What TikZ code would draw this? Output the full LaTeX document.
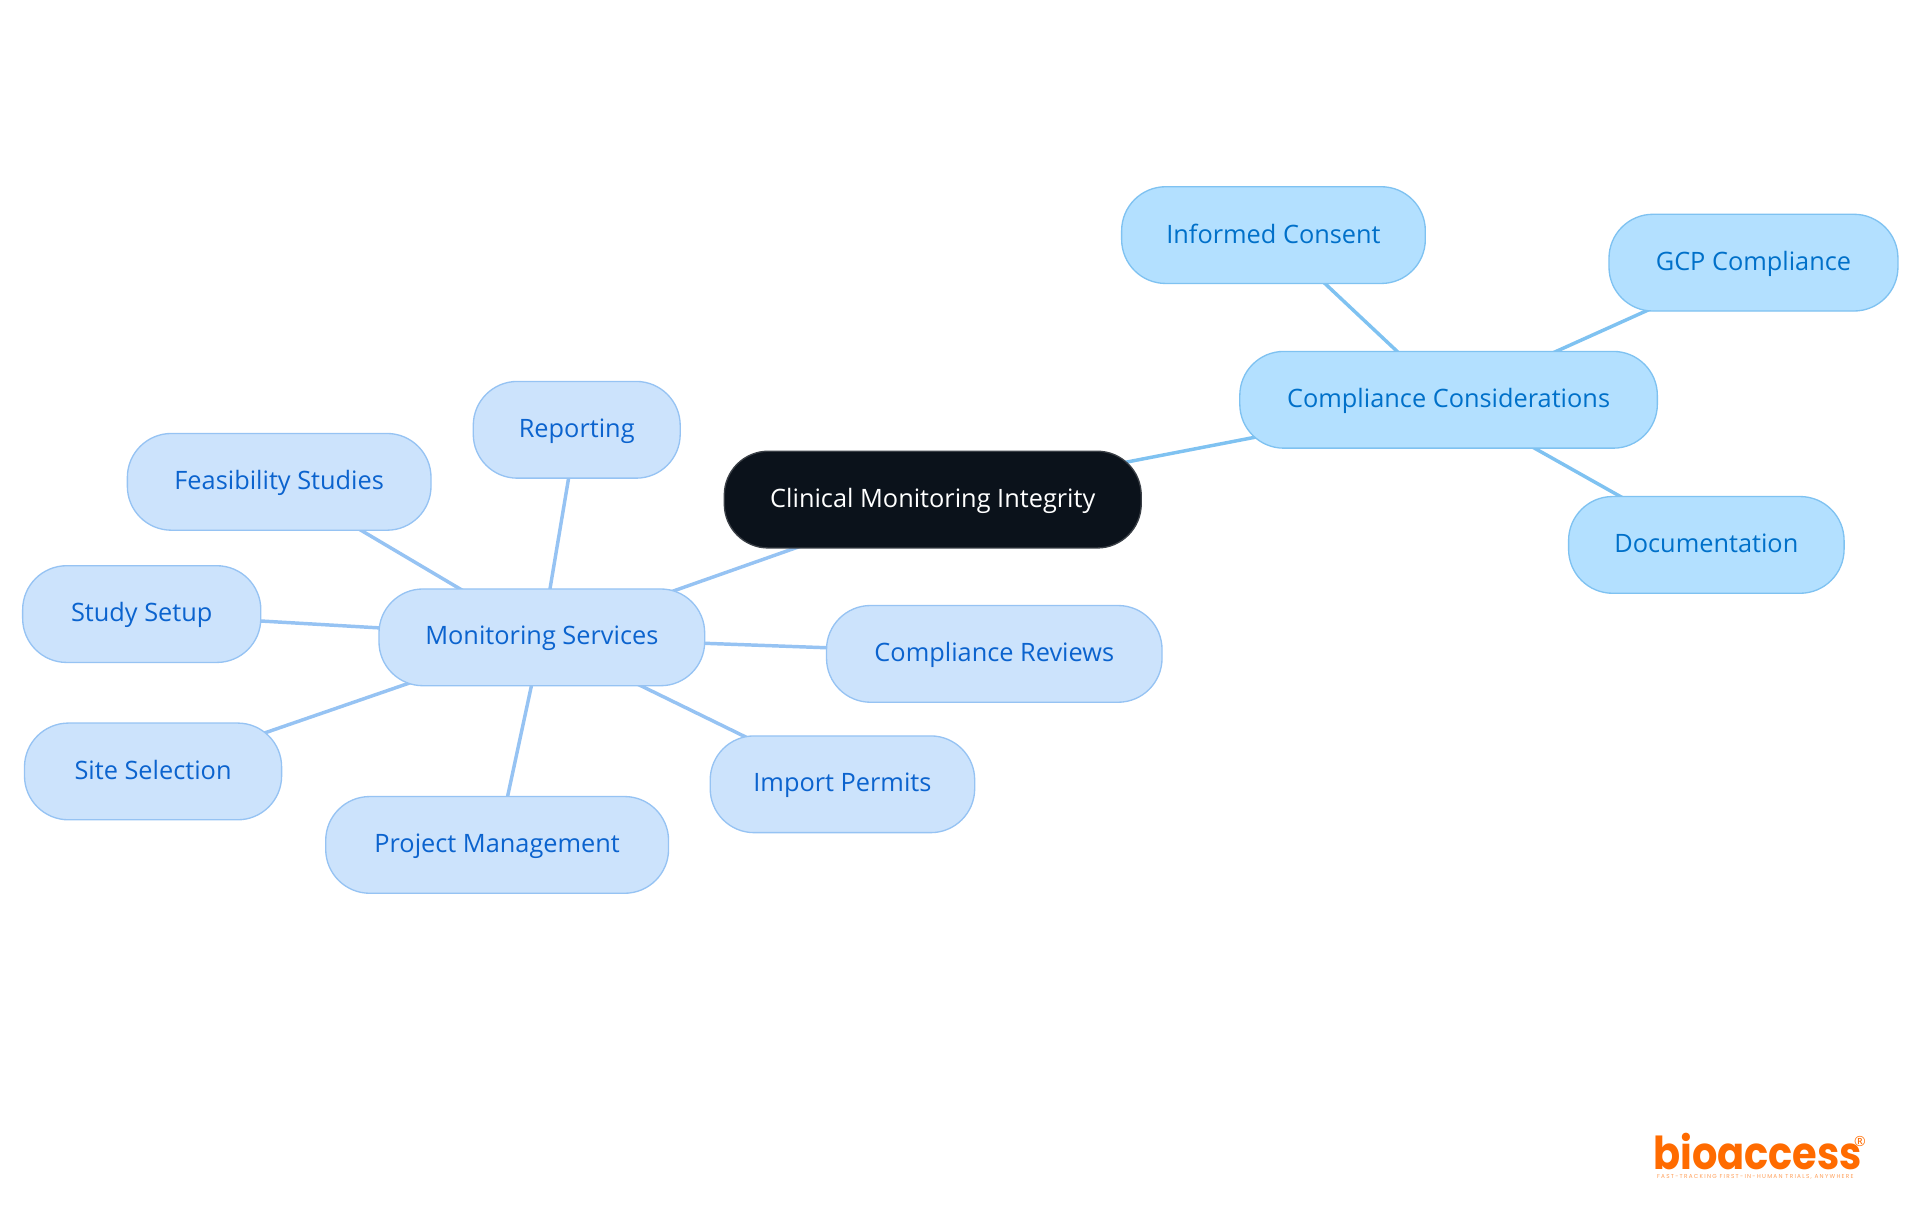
\documentclass[tikz,border=0pt]{standalone}
\usepackage{fontspec}
\setmainfont{Open Sans}
\newfontfamily\logofont{Poppins}
\newfontfamily\tagfont[LetterSpace=22]{Poppins}
\usetikzlibrary{backgrounds}
\definecolor{rootfill}{HTML}{0B121B}
\definecolor{rootline}{HTML}{3A3F46}
\definecolor{bluefill}{HTML}{CCE3FC}
\definecolor{blueline}{HTML}{96C3F3}
\definecolor{bluetext}{HTML}{0B63CE}
\definecolor{skyfill}{HTML}{B3E0FF}
\definecolor{skyline}{HTML}{7FC2F1}
\definecolor{skytext}{HTML}{0070C9}
\definecolor{logoorange}{HTML}{FF6B00}
\newcommand{\ux}{0.91837pt}
\tikzset{
  pill/.style={rectangle,rounded corners=33pt,inner sep=0pt,line width=1pt,font=\fontsize{19}{22}\selectfont,text depth=2.6pt},
  rootpill/.style={pill,draw=rootline,fill=rootfill,text=white},
  bluepill/.style={pill,draw=blueline,fill=bluefill,text=bluetext},
  skypill/.style={pill,draw=skyline,fill=skyfill,text=skytext},
  bluelink/.style={draw=blueline,line width=2.6pt},
  skylink/.style={draw=skyline,line width=2.6pt},
}
\newcommand{\pillnode}[7]{%
  \node[#2,minimum width=(#4-#3)*\ux,minimum height=(#6-#5)*\ux] (#1) at ({(#3+#4)/2},{(#5+#6)/2}) {#7};}
\begin{document}
\begin{tikzpicture}[x=\ux,y=-\ux]
\useasboundingbox (0,0) rectangle (1568,992.25);
\pillnode{root}{rootpill}{591.5}{932}{368.5}{447.5}{Clinical Monitoring Integrity}
\pillnode{ms}{bluepill}{309.5}{575.5}{481}{560}{Monitoring Services}
\pillnode{cc}{skypill}{1012.5}{1353.5}{287}{366}{Compliance Considerations}
\pillnode{ic}{skypill}{916}{1164}{152.5}{231.5}{Informed Consent}
\pillnode{gcp}{skypill}{1314}{1550}{175}{254}{GCP Compliance}
\pillnode{doc}{skypill}{1281}{1506}{405.5}{484.5}{Documentation}
\pillnode{rep}{bluepill}{386.5}{555.5}{311.5}{390.5}{Reporting}
\pillnode{fs}{bluepill}{104}{352}{354}{433}{Feasibility Studies}
\pillnode{ss}{bluepill}{18.5}{213}{462}{541}{Study Setup}
\pillnode{sel}{bluepill}{20}{230}{590.5}{669.5}{Site Selection}
\pillnode{pm}{bluepill}{266}{546}{650.5}{729.5}{Project Management}
\pillnode{ip}{bluepill}{580}{796}{601}{680}{Import Permits}
\pillnode{cr}{bluepill}{675}{949}{494.5}{573.5}{Compliance Reviews}
\begin{scope}[on background layer]
\draw[skylink] (root.center) -- (cc.center);
\draw[skylink] (cc.center) -- (ic.center);
\draw[skylink] (cc.center) -- (gcp.center);
\draw[skylink] (cc.center) -- (doc.center);
\draw[bluelink] (root.center) -- (ms.center);
\draw[bluelink] (ms.center) -- (rep.center);
\draw[bluelink] (ms.center) -- (fs.center);
\draw[bluelink] (ms.center) -- (ss.center);
\draw[bluelink] (ms.center) -- (sel.center);
\draw[bluelink] (ms.center) -- (pm.center);
\draw[bluelink] (ms.center) -- (ip.center);
\draw[bluelink] (ms.center) -- (cr.center);
\end{scope}
\node[anchor=base west,inner sep=0pt,text=logoorange,font=\logofont\bfseries\fontsize{34}{34}\selectfont] (logo) at (1350,955) {\scalebox{0.88}[1]{bioaccess}};
\node[anchor=center,inner sep=0pt,text=logoorange,font=\fontsize{10.5}{10.5}\selectfont] (reg) at (1519,932) {®};
\node[anchor=center,inner sep=0pt,text=logoorange!65,font=\tagfont\fontsize{4.3}{4.3}\selectfont] (tag) at (1433.5,961.5) {FAST-TRACKING FIRST-IN-HUMAN TRIALS, ANYWHERE};
\end{tikzpicture}
\end{document}
